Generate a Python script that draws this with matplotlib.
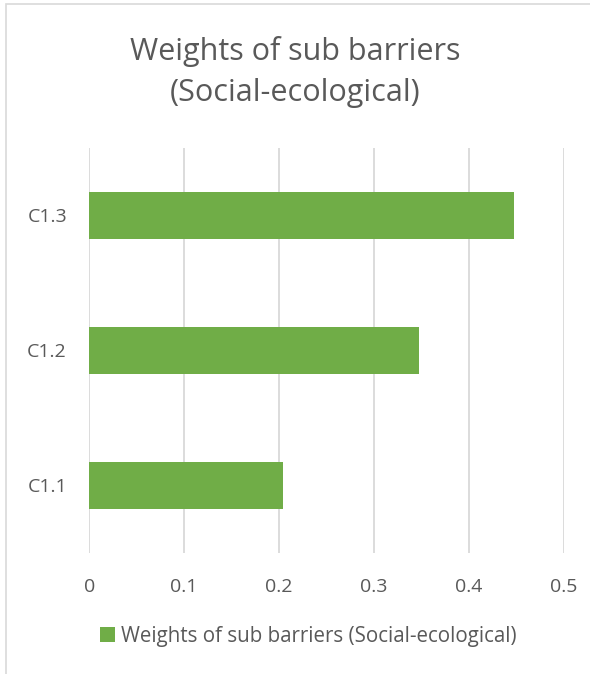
import matplotlib.pyplot as plt
from matplotlib.patches import Rectangle, Patch

# --- Data ---
categories = ['C1.1', 'C1.2', 'C1.3']
weights = [0.204, 0.348, 0.448]
series_name = 'Weights of sub barriers (Social-ecological)'
x_ticks = [0, 0.1, 0.2, 0.3, 0.4, 0.5]
x_tick_labels = ['0', '0.1', '0.2', '0.3', '0.4', '0.5']

bar_color = '#70AD47'
text_color = '#595959'
grid_color = '#D9D9D9'

plt.rcParams['font.family'] = ['Open Sans', 'DejaVu Sans']

fig = plt.figure(figsize=(5.9, 6.74), dpi=100)
ax = fig.add_axes([0.1512, 0.1798, 0.8041, 0.6006])

ax.barh(categories, weights, height=0.35, color=bar_color, zorder=3)

ax.set_xlim(0, 0.5)
ax.set_ylim(-0.5, len(categories) - 0.5)
ax.set_xticks(x_ticks)
ax.set_xticklabels(x_tick_labels)
ax.grid(axis='x', color=grid_color, linewidth=1.3, zorder=0)
ax.tick_params(axis='both', length=0, labelsize=14, labelcolor=text_color)
ax.tick_params(axis='x', pad=18)
ax.tick_params(axis='y', pad=16)
for s in ax.spines.values():
    s.set_visible(False)

# --- Title ---
fig.text(0.5, 0.893, 'Weights of sub barriers\n(Social-ecological)', ha='center', va='center',
         fontsize=22, color=text_color, linespacing=1.45)

# --- Legend ---
handle = Patch(facecolor=bar_color, edgecolor='none')
fig.legend([handle], [series_name], loc='center', bbox_to_anchor=(0.522, 0.056),
           frameon=False, fontsize=14.8, labelcolor=text_color,
           handlelength=0.75, handleheight=0.75, handletextpad=0.25)

# --- Chart area border ---
fig.patches.append(Rectangle((6 / 590, -0.05), 1.2, 1 - 4 / 674 + 0.05, transform=fig.transFigure,
                             fill=False, edgecolor='#D9D9D9', linewidth=1.2))

fig.savefig('out.png', dpi=100, facecolor='white')
